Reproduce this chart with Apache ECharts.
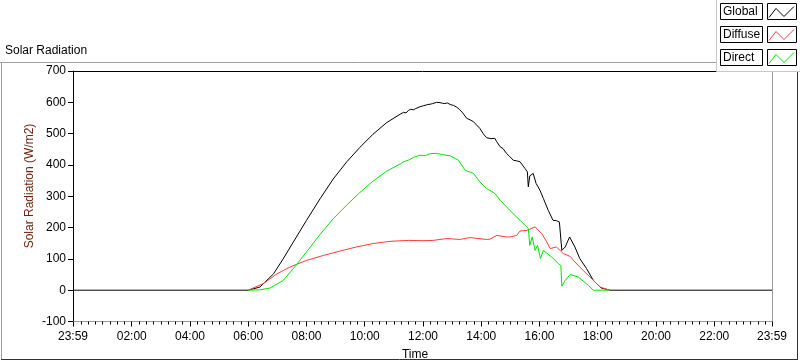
<!DOCTYPE html>
<html>
<head>
<meta charset="utf-8">
<script src="https://cdn.jsdelivr.net/npm/echarts@6/dist/echarts.min.js"></script>
<style>html,body{margin:0;padding:0;background:#fff}#c{width:800px;height:361px}</style>
</head>
<body>
<div id="c"></div>
<script>
// ---- data (clock times, W/m2) ----
const globalTime = ["23:59","06:00","06:04","06:24","06:52","07:12","07:33","08:00","08:28","08:55","09:23","09:50","10:17","10:45","11:13","11:20","11:25","11:30","11:35","11:40","11:45","11:54","12:01","12:05","12:10","12:15","12:20","12:28","12:35","12:40","12:45","12:50","12:56","13:03","13:10","13:16","13:22","13:30","13:37","13:44","13:50","13:57","14:04","14:11","14:20","14:28","14:32","14:39","14:45","14:52","14:58","15:06","15:13","15:20","15:30","15:35","15:37","15:40","15:47","15:53","16:01","16:08","16:18","16:28","16:35","16:41","16:46","16:53","17:02","17:13","17:23","17:37","17:51","18:07","18:25","23:59"];
const globalVal  = [0,0,1,10,52,100,154,223,292,355,410,456,498,535,562,568,566,574,578,576,580,586,589,588,593,594,596,600,599,597,596,598,593,590,584,576,566,549,544,538,528,517,500,487,484,485,474,458,452,437,428,415,413,410,389,378,330,365,373,341,319,293,255,223,222,218,127,138,170,138,101,69,31,7,0,0];

const diffuseTime = ["06:00","06:04","06:31","06:59","07:26","08:00","08:35","09:09","09:43","10:17","10:52","11:30","12:00","12:21","12:49","13:16","13:37","14:11","14:18","14:32","14:52","14:59","15:13","15:20","15:34","15:51","16:05","16:15","16:22","16:25","16:35","16:39","16:49","17:03","17:13","17:30","17:44","18:05","18:22","18:25"];
const diffuseVal  = [0,1,21,52,74,95,111,125,138,149,156,159,158,159,165,162,168,162,163,175,170,170,175,189,191,202,180,154,133,130,138,136,117,108,90,63,42,10,1,0];

const directTime = ["06:00","06:24","06:45","07:12","07:33","08:00","08:28","08:55","09:23","09:50","10:17","10:45","11:13","11:20","11:30","11:40","11:54","12:05","12:15","12:28","12:40","12:56","13:13","13:27","13:44","13:57","14:11","14:28","14:39","14:59","15:20","15:37","15:40","15:45","15:51","15:56","16:02","16:08","16:11","16:25","16:39","16:44","16:46","16:53","17:03","17:20","17:41","17:51","18:25"];
const directVal  = [0,1,7,31,69,122,178,228,272,312,348,380,403,410,415,424,431,430,436,437,433,429,415,383,373,346,325,309,287,255,223,197,143,170,127,143,101,127,122,106,85,79,13,31,50,42,15,0,0];

const xTickLabels = ["23:59","02:00","04:00","06:00","08:00","10:00","12:00","14:00","16:00","18:00","20:00","22:00","23:59"];
const yTicks = [-100,0,100,200,300,400,500,600,700];
const seriesNames = ["Global","Diffuse","Direct"];
const seriesColors = ["#000000","#ff3c3c","#00e600"];

// ---- helpers ----
function toMin(t, i) {
  const p = t.split(":").map(Number);
  if (i === 0 && t === "23:59") return -1; // previous day 23:59
  return p[0] * 60 + p[1];
}
function pairs(times, vals) { return times.map((t, i) => [toMin(t, i), vals[i]]); }
const xMin = -1, xMax = 1439;
const majorVals = xTickLabels.map((t, i) => toMin(t, i));
const minorVals = [];
for (let m = 15; m < xMax; m += 15) if (m % 120 !== 0) minorVals.push(m);
const labelMap = {};
majorVals.forEach((v, i) => labelMap[v] = xTickLabels[i]);

const FONT = "Liberation Sans";
const chart = echarts.init(document.getElementById("c"), null, {renderer: "canvas"});

const legendGraphics = [];
seriesNames.forEach((n, i) => {
  const y0 = 3.5 + i * 23;
  legendGraphics.push({type: "rect", z: 101, shape: {x: 720.5, y: y0, width: 42, height: 16}, style: {fill: "#fff", stroke: "#000", lineWidth: 1}});
  legendGraphics.push({type: "text", z: 102, x: 723, y: y0 + 8.5, style: {text: n, font: "12px " + FONT, fill: "#000", verticalAlign: "middle"}});
  legendGraphics.push({type: "rect", z: 101, shape: {x: 767.5, y: y0, width: 29, height: 16}, style: {fill: "#fff", stroke: "#000", lineWidth: 1}});
  legendGraphics.push({type: "polyline", z: 102, shape: {points: [[769, y0 + 14], [776, y0 + 5], [784, y0 + 13], [794, y0 + 3]]}, style: {stroke: seriesColors[i], lineWidth: 1, fill: null}});
});

chart.setOption({
  animation: false,
  backgroundColor: "#fff",
  grid: {left: 73, right: 28, top: 71, bottom: 39.5, containLabel: false},
  xAxis: [
    {type: "value", min: xMin, max: xMax, position: "bottom",
     axisLine: {show: true, onZero: false, lineStyle: {color: "#9a9a9a", width: 1}},
     axisTick: {show: true, customValues: majorVals, length: 5, lineStyle: {color: "#000"}},
     axisLabel: {customValues: majorVals, formatter: v => labelMap[v] || "", color: "#000", fontSize: 12, fontFamily: FONT, margin: 9},
     splitLine: {show: false}},
    {type: "value", min: xMin, max: xMax, position: "bottom",
     axisLine: {show: false, onZero: false},
     axisTick: {show: true, customValues: minorVals, length: 3, lineStyle: {color: "#000"}},
     axisLabel: {show: false}, splitLine: {show: false}},
    {type: "value", min: xMin, max: xMax, position: "top",
     axisLine: {show: true, onZero: false, lineStyle: {color: "#000"}},
     axisTick: {show: false}, axisLabel: {show: false}, splitLine: {show: false}}
  ],
  yAxis: [
    {type: "value", min: yTicks[0], max: yTicks[yTicks.length - 1], interval: 100,
     axisLine: {show: true, onZero: false, lineStyle: {color: "#000"}},
     axisTick: {show: true, length: 5, lineStyle: {color: "#000"}},
     axisLabel: {color: "#000", fontSize: 12, fontFamily: FONT, margin: 7},
     splitLine: {show: false}},
    {type: "value", min: yTicks[0], max: yTicks[yTicks.length - 1], interval: 100, position: "right",
     axisLine: {show: true, onZero: false, lineStyle: {color: "#9a9a9a"}},
     axisTick: {show: false}, axisLabel: {show: false}, splitLine: {show: false}}
  ],
  series: [
    {name: seriesNames[0], type: "line", data: pairs(globalTime, globalVal), showSymbol: false, symbol: "none", lineStyle: {color: seriesColors[0], width: 1}, z: 2},
    {name: seriesNames[1], type: "line", data: pairs(diffuseTime, diffuseVal), showSymbol: false, symbol: "none", lineStyle: {color: seriesColors[1], width: 1}, z: 3},
    {name: seriesNames[2], type: "line", data: pairs(directTime, directVal), showSymbol: false, symbol: "none", lineStyle: {color: seriesColors[2], width: 1}, z: 4}
  ],
  graphic: [
    {type: "text", x: 5, y: 51, style: {text: "Solar Radiation", font: "12px " + FONT, fill: "#000", verticalAlign: "middle"}},
    {type: "text", x: 29.5, y: 186, rotation: Math.PI / 2, style: {text: "Solar Radiation (W/m2)", font: "12px " + FONT, fill: "#6e2410", align: "center", verticalAlign: "middle"}},
    {type: "text", x: 415, y: 354.5, style: {text: "Time", font: "12px " + FONT, fill: "#000", align: "center", verticalAlign: "middle"}},
    // outer frame
    {type: "line", shape: {x1: 0, y1: 62.5, x2: 717, y2: 62.5}, style: {stroke: "#a0a0a0", lineWidth: 1}},
    {type: "line", shape: {x1: 1.5, y1: 62, x2: 1.5, y2: 360}, style: {stroke: "#a0a0a0", lineWidth: 1}},
    {type: "line", shape: {x1: 1, y1: 359.5, x2: 798, y2: 359.5}, style: {stroke: "#333", lineWidth: 1}},
    {type: "line", shape: {x1: 797.5, y1: 62, x2: 797.5, y2: 360}, style: {stroke: "#333", lineWidth: 1}},
    // legend panel
    {type: "rect", z: 100, shape: {x: 716.5, y: -1, width: 90, height: 72.5}, style: {fill: "#fff", stroke: "#c8c8c8", lineWidth: 1}}
  ].concat(legendGraphics)
});
</script>
</body>
</html>
